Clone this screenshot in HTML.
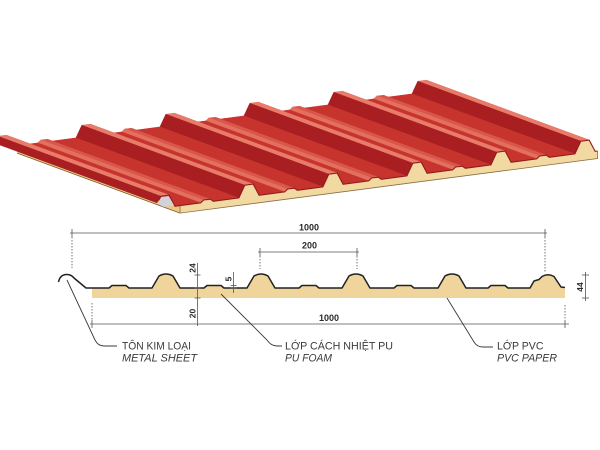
<!DOCTYPE html>
<html><head><meta charset="utf-8"><style>
html,body{margin:0;padding:0;background:#fff;}
svg{display:block;}
</style></head><body>
<svg width="600" height="450" viewBox="0 0 600 450" xmlns="http://www.w3.org/2000/svg">
<rect width="600" height="450" fill="#fff"/>
<defs>
<g id="valley">
<polygon fill="#c7342e" stroke="#c7342e" stroke-width="0.5" points="213.3,201.3 238.9,197.9 75.9,137.9 50.3,141.3"/>
<polygon fill="#b42828" stroke="#b42828" stroke-width="0.5" points="210.4,199.2 213.3,201.3 50.3,141.3 47.4,139.2"/>
<polygon fill="#d9574a" stroke="#d9574a" stroke-width="0.5" points="203.6,200 210.4,199.2 47.4,139.2 40.6,140"/>
<polygon fill="#e3705f" stroke="#e3705f" stroke-width="0.5" points="200.7,202.9 203.6,200 40.6,140 37.7,142.9"/>
<polygon fill="#c7342e" stroke="#c7342e" stroke-width="0.5" points="175.1,206.3 200.7,202.9 37.7,142.9 12.1,146.3"/>
</g>
<g id="ridgeR">
<polygon fill="#c43a32" stroke="#c43a32" stroke-width="0.5" points="169.2,195.1 175.1,206.3 12.1,146.3 6.2,135.1"/>
<polygon fill="#e87b69" stroke="#e87b69" stroke-width="0.5" points="160.8,196.2 169.2,195.1 6.2,135.1 -2.2,136.2"/>
</g>
<g id="ridgeL">
<polygon fill="#a81e21" stroke="#a81e21" stroke-width="0.5" points="154.9,208.9 160.8,196.2 -2.2,136.2 -8.1,148.9"/>
</g>
</defs>

<!-- foam left face -->
<polygon fill="#ecc97e" points="180.1,205.6 180.1,213.1 17.1,153.1 17.1,145.6"/>
<line x1="180.1" y1="213.1" x2="17.1" y2="153.1" stroke="#7a5a30" stroke-width="0.8"/>

<!-- k=5 ridge only -->
<g transform="translate(420,-55)"><use href="#ridgeR"/><use href="#ridgeL"/></g>
<g transform="translate(336,-44)"><use href="#valley"/><use href="#ridgeR"/><use href="#ridgeL"/></g>
<g transform="translate(252,-33)"><use href="#valley"/><use href="#ridgeR"/><use href="#ridgeL"/></g>
<g transform="translate(168,-22)"><use href="#valley"/><use href="#ridgeR"/><use href="#ridgeL"/></g>
<g transform="translate(84,-11)"><use href="#valley"/><use href="#ridgeR"/><use href="#ridgeL"/></g>
<!-- k=0 hook -->
<use href="#valley"/><use href="#ridgeR"/>
<polygon fill="#a81e21" stroke="#a81e21" stroke-width="0.5" points="156.6,202.7 160.8,196.2 -2.2,136.2 -6.4,142.7"/>

<!-- front foam face -->
<polygon fill="#f2d9a2" points="180.1,205.6 200.7,202.9 203.6,200.0 210.4,199.2 213.3,201.3 238.9,197.9 244.8,185.2 253.2,184.1 259.1,195.3 284.7,191.9 287.6,189.0 294.4,188.2 297.3,190.3 322.9,186.9 328.8,174.2 337.2,173.1 343.1,184.3 368.7,180.9 371.6,178.0 378.4,177.2 381.3,179.3 406.9,175.9 412.8,163.2 421.2,162.1 427.1,173.3 452.7,169.9 455.6,167.0 462.4,166.2 465.3,168.3 490.9,164.9 496.8,152.2 505.2,151.1 511.1,162.3 536.7,158.9 539.6,156.0 546.4,155.2 549.3,157.3 574.9,153.9 580.8,141.2 589.2,140.1 595.1,151.3 597.6,151.0 597.6,158.5 180.1,213.1"/>
<polyline fill="none" stroke="#8e1c1c" stroke-width="1.1" points="180.1,205.6 200.7,202.9 203.6,200.0 210.4,199.2 213.3,201.3 238.9,197.9 244.8,185.2 253.2,184.1 259.1,195.3 284.7,191.9 287.6,189.0 294.4,188.2 297.3,190.3 322.9,186.9 328.8,174.2 337.2,173.1 343.1,184.3 368.7,180.9 371.6,178.0 378.4,177.2 381.3,179.3 406.9,175.9 412.8,163.2 421.2,162.1 427.1,173.3 452.7,169.9 455.6,167.0 462.4,166.2 465.3,168.3 490.9,164.9 496.8,152.2 505.2,151.1 511.1,162.3 536.7,158.9 539.6,156.0 546.4,155.2 549.3,157.3 574.9,153.9 580.8,141.2 589.2,140.1 595.1,151.3 597.6,151.0"/>
<polyline fill="none" stroke="#8a6e45" stroke-width="0.8" points="597.6,151 597.6,158.5 180.1,213.1 180.1,205.6"/>
<!-- hook grey interior -->
<polygon fill="#d2d3da" points="157.5,203.5 161.4,197 168.6,196 174.6,205.8 163,206.8"/>
<polyline fill="none" stroke="#8e1c1c" stroke-width="1" points="156.6,202.7 160.8,196.2 169.2,195.1 175.1,206.3 180.1,205.6"/>

<!-- ===== bottom 2D profile ===== -->
<path fill="#efd49c" d="M 92 288 L 109 288 L 112 285.5 L 126 285.5 L 129 288 L 152 288 L 159 276 Q 166 272 173 276 L 180 288 L 204 288 L 207 285.5 L 221 285.5 L 224 288 L 247 288 L 254 276 Q 261 272 268 276 L 275 288 L 299 288 L 302 285.5 L 316 285.5 L 319 288 L 342 288 L 349 276 Q 356 272 363 276 L 370 288 L 394 288 L 397 285.5 L 411 285.5 L 414 288 L 438 288 L 445 276 Q 452 272 459 276 L 466 288 L 488 288 L 491 285.5 L 505 285.5 L 508 288 L 530 288 L 534 281 L 539 279.5 L 542 276.5 Q 548 273 554 276.5 L 561 287 L 565 287.5 L 565 298 L 92 298 Z"/>
<path fill="none" stroke="#222" stroke-width="1.5" stroke-linejoin="round" d="M 58.5 282 Q 60 275 66 274.5 Q 71 274 74 278 L 86 288 L 109 288 L 112 285.5 L 126 285.5 L 129 288 L 152 288 L 159 276 Q 166 272 173 276 L 180 288 L 204 288 L 207 285.5 L 221 285.5 L 224 288 L 247 288 L 254 276 Q 261 272 268 276 L 275 288 L 299 288 L 302 285.5 L 316 285.5 L 319 288 L 342 288 L 349 276 Q 356 272 363 276 L 370 288 L 394 288 L 397 285.5 L 411 285.5 L 414 288 L 438 288 L 445 276 Q 452 272 459 276 L 466 288 L 488 288 L 491 285.5 L 505 285.5 L 508 288 L 530 288 L 534 281 L 539 279.5 L 542 276.5 Q 548 273 554 276.5 L 561 287 L 565 287.5"/>

<!-- dimension lines -->
<g stroke="#555" stroke-width="0.8" fill="none">
<line x1="70" y1="233" x2="547" y2="233"/>
<line x1="72" y1="229" x2="72" y2="237"/>
<line x1="545" y1="229" x2="545" y2="237"/>
<line x1="72" y1="237" x2="72" y2="268" stroke-dasharray="1.5 1.5"/>
<line x1="545" y1="237" x2="545" y2="272" stroke-dasharray="1.5 1.5"/>
<line x1="258" y1="252" x2="359" y2="252"/>
<line x1="260" y1="248" x2="260" y2="256"/>
<line x1="357" y1="248" x2="357" y2="256"/>
<line x1="260" y1="256" x2="260" y2="269" stroke-dasharray="1.5 1.5"/>
<line x1="357" y1="256" x2="357" y2="269" stroke-dasharray="1.5 1.5"/>
<line x1="90" y1="324" x2="569" y2="324"/>
<line x1="92" y1="303" x2="92" y2="320" stroke-dasharray="1.5 1.5"/>
<line x1="92" y1="320" x2="92" y2="328"/>
<line x1="565" y1="305" x2="565" y2="320" stroke-dasharray="1.5 1.5"/>
<line x1="565" y1="320" x2="565" y2="328"/>
<line x1="585.5" y1="272" x2="585.5" y2="301"/>
<line x1="582" y1="275" x2="589" y2="275"/>
<line x1="582" y1="298" x2="589" y2="298"/>
<line x1="197.5" y1="263" x2="197.5" y2="326"/>
<line x1="194.5" y1="275" x2="200.5" y2="275"/>
<line x1="194.5" y1="288" x2="200.5" y2="288"/>
<line x1="194.5" y1="298" x2="200.5" y2="298"/>
<line x1="233.5" y1="272" x2="233.5" y2="293"/>
<line x1="230.5" y1="285.5" x2="236.5" y2="285.5"/>
<line x1="230.5" y1="288" x2="236.5" y2="288"/>
</g>

<g font-family="Liberation Sans, Arial, sans-serif" font-weight="bold" font-size="9" fill="#2a2a2a">
<text x="309" y="230.5" text-anchor="middle">1000</text>
<text x="309.5" y="248.5" text-anchor="middle">200</text>
<text x="329" y="321" text-anchor="middle">1000</text>
<text transform="translate(195.5,268) rotate(-90)" text-anchor="middle" font-size="8.5">24</text>
<text transform="translate(195.5,313.5) rotate(-90)" text-anchor="middle" font-size="8.5">20</text>
<text transform="translate(231.5,279) rotate(-90)" text-anchor="middle" font-size="8.5">5</text>
<text transform="translate(583,287) rotate(-90)" text-anchor="middle" font-size="8.5">44</text>
</g>

<!-- leaders -->
<g stroke="#3a3a3a" stroke-width="0.9" fill="none">
<path d="M 67 280 L 95 340 Q 98 346 104 346 L 117 346"/>
<path d="M 221 294 L 267 340 Q 271 346 277 346 L 282 346"/>
<path d="M 447 298 L 474 342 Q 477 347 483 347 L 493 347"/>
</g>

<g font-family="Liberation Sans, Arial, sans-serif" font-size="11" fill="#3a3a3a">
<text x="122" y="349.5" textLength="69" lengthAdjust="spacingAndGlyphs">TÔN KIM LOẠI</text>
<text x="122" y="361.5" textLength="75" lengthAdjust="spacingAndGlyphs" font-style="italic">METAL SHEET</text>
<text x="285" y="349.5" textLength="108" lengthAdjust="spacingAndGlyphs">LỚP CÁCH NHIỆT PU</text>
<text x="285" y="361.5" textLength="47" lengthAdjust="spacingAndGlyphs" font-style="italic">PU FOAM</text>
<text x="497" y="349.5" textLength="46.5" lengthAdjust="spacingAndGlyphs">LỚP PVC</text>
<text x="497" y="361.5" textLength="60" lengthAdjust="spacingAndGlyphs" font-style="italic">PVC PAPER</text>
</g>
</svg>
</body></html>
